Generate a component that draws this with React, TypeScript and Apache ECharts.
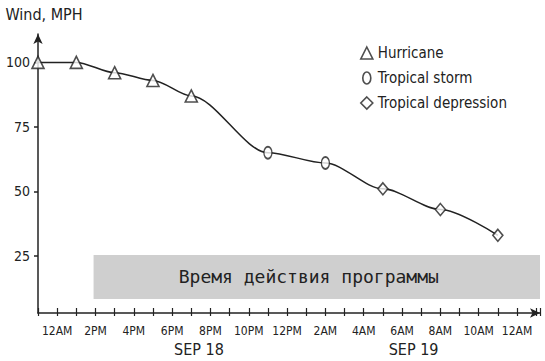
import React, { useEffect, useRef } from "react";
import * as echarts from "echarts";

const hurricaneHours = [-1, 1, 3, 5, 7];
const hurricaneWind = [100, 100, 96, 93, 87];
const stormHours = [11, 14];
const stormWind = [65, 61];
const depressionHours = [17, 20, 23];
const depressionWind = [51, 43, 33];

const xLabelHours = [0, 2, 4, 6, 8, 10, 12, 14, 16, 18, 20, 22, 24];
const xLabels = ["12AM", "2PM", "4PM", "6PM", "8PM", "10PM", "12PM", "2AM", "4AM", "6AM", "8AM", "10AM", "12AM"];
const dayHours = [7.4, 18.6];
const dayLabels = ["SEP 18", "SEP 19"];
const yTicks = [25, 50, 75, 100];
const programStart = 1.9;
const programBottom = 8.3;
const programTop = 25.4;
const programLabel = "Время действия программы";

const NARROW = "'Liberation Sans Narrow', 'DejaVu Sans Condensed', 'Roboto Condensed', sans-serif";
const INK = "#222";
const ellipse = "path://M4,0A4,6,0,1,1,4,12A4,6,0,1,1,4,0Z";

export default function App() {
  const ref = useRef<HTMLDivElement>(null);
  useEffect(() => {
    if (!ref.current) return;
    const chart = echarts.init(ref.current, null, { renderer: "svg" });
    const zip = (xs: number[], ys: number[]) => xs.map((x, i) => [x, ys[i]]);
    const allPts = [
      ...zip(hurricaneHours, hurricaneWind),
      ...zip(stormHours, stormWind),
      ...zip(depressionHours, depressionWind),
    ];
    const markerStyle = { color: "#fff", borderColor: INK, borderWidth: 1.6 };
    chart.setOption({
      animation: false,
      grid: { left: 38, right: 5, top: 34, bottom: 48 },
      legend: {
        orient: "vertical",
        left: 355,
        top: 39,
        itemWidth: 12,
        itemHeight: 12,
        itemGap: 7,
        textStyle: { fontFamily: NARROW, fontSize: 15, color: INK, lineHeight: 18 },
        itemStyle: markerStyle,
        data: [
          { name: "Hurricane", icon: "triangle" },
          { name: "Tropical storm", icon: ellipse },
          { name: "Tropical depression", icon: "diamond" },
        ],
      },
      xAxis: [
        {
          type: "value",
          min: -1,
          max: 25.2,
          interval: 1,
          splitLine: { show: false },
          axisLine: {
            show: true,
            onZero: false,
            symbol: ["none", "arrow"],
            symbolSize: [7, 10],
            lineStyle: { color: INK, width: 1.5 },
          },
          axisTick: { show: true, inside: true, length: 5, lineStyle: { color: INK, width: 1.2 } },
          axisLabel: {
            customValues: xLabelHours,
            formatter: (v: number) => xLabels[xLabelHours.indexOf(v)] ?? "",
            fontFamily: NARROW,
            fontSize: 12,
            color: INK,
            margin: 12,
          },
        },
        {
          type: "value",
          min: -1,
          max: 25.2,
          interval: 1,
          position: "bottom",
          splitLine: { show: false },
          axisLine: { show: false, onZero: false },
          axisTick: { show: true, length: 3, lineStyle: { color: INK, width: 1.2 } },
          axisLabel: { show: false },
        },
        {
          type: "value",
          min: -1,
          max: 25.2,
          position: "bottom",
          splitLine: { show: false },
          axisLine: { show: false, onZero: false },
          axisTick: { show: false },
          axisLabel: {
            customValues: dayHours,
            formatter: (v: number) => dayLabels[dayHours.indexOf(v)] ?? "",
            fontFamily: NARROW,
            fontSize: 16,
            color: INK,
            margin: 28,
          },
        },
      ],
      yAxis: {
        type: "value",
        min: 2.9,
        max: 111,
        name: "Wind, MPH",
        nameLocation: "end",
        nameGap: 12,
        nameTextStyle: { fontFamily: NARROW, fontSize: 16, color: INK, padding: [0, 0, 0, 12] },
        splitLine: { show: false },
        axisLine: {
          show: true,
          onZero: false,
          symbol: ["none", "arrow"],
          symbolSize: [7, 10],
          lineStyle: { color: INK, width: 1.5 },
        },
        axisTick: { show: true, customValues: yTicks, length: 4, lineStyle: { color: INK, width: 1.5 } },
        axisLabel: {
          customValues: yTicks,
          fontFamily: NARROW,
          fontSize: 14,
          color: INK,
          margin: 8,
        },
      },
      series: [
        {
          name: "track",
          type: "line",
          data: allPts,
          smooth: 0.3,
          smoothMonotone: "x",
          showSymbol: false,
          lineStyle: { color: INK, width: 1.5 },
          z: 2,
          markArea: {
            silent: true,
            itemStyle: { color: "#cfcfcf" },
            label: {
              show: true,
              position: "inside",
              offset: [-8, 0],
              fontFamily: "'DejaVu Sans Mono', monospace",
              fontSize: 18,
              color: INK,
            },
            data: [[
              { name: programLabel, xAxis: programStart, yAxis: programBottom },
              { xAxis: 25.2, yAxis: programTop },
            ]],
          },
        },
        {
          name: "Hurricane",
          type: "scatter",
          data: zip(hurricaneHours, hurricaneWind),
          symbol: "triangle",
          symbolSize: [12, 12],
          itemStyle: markerStyle,
          z: 3,
        },
        {
          name: "Tropical storm",
          type: "scatter",
          data: zip(stormHours, stormWind),
          symbol: ellipse,
          symbolSize: [8, 12],
          itemStyle: markerStyle,
          z: 3,
        },
        {
          name: "Tropical depression",
          type: "scatter",
          data: zip(depressionHours, depressionWind),
          symbol: "diamond",
          symbolSize: [10, 12],
          itemStyle: markerStyle,
          z: 3,
        },
      ],
    });
    return () => chart.dispose();
  }, []);
  return <div ref={ref} style={{ position: "absolute", left: 0, top: 0, width: 545, height: 361 }} />;
}
